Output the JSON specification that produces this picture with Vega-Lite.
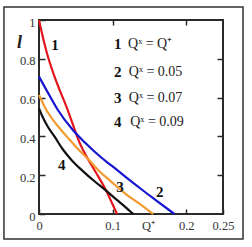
{
  "$schema": "https://vega.github.io/schema/vega-lite/v6.json",
  "autosize": "none",
  "width": 184,
  "height": 194,
  "padding": {"left": 39, "top": 20, "right": 29, "bottom": 33},
  "background": "white",
  "config": {
    "view": {"stroke": "#2a2a2a", "strokeWidth": 2},
    "axis": {"labelFont": "Liberation Serif", "labelFontSize": 12.5, "labelColor": "#333", "domain": false, "tickColor": "#2a2a2a", "tickWidth": 1.5, "grid": false}
  },
  "datasets": {
    "frame": [{"x": -0.0476, "x2": 0.2772, "y": 1.067, "y2": -0.129}],
    "curves": [
      {"s": "1", "x": 0.0, "y": 1.0}, {"s": "1", "x": 0.006, "y": 0.9}, {"s": "1", "x": 0.013, "y": 0.8}, {"s": "1", "x": 0.02, "y": 0.72}, {"s": "1", "x": 0.028, "y": 0.64}, {"s": "1", "x": 0.039, "y": 0.536}, {"s": "1", "x": 0.048, "y": 0.44}, {"s": "1", "x": 0.056, "y": 0.36}, {"s": "1", "x": 0.067, "y": 0.28}, {"s": "1", "x": 0.078, "y": 0.21}, {"s": "1", "x": 0.092, "y": 0.115}, {"s": "1", "x": 0.1, "y": 0.05}, {"s": "1", "x": 0.106, "y": 0.0},
      {"s": "2", "x": 0.0, "y": 0.708}, {"s": "2", "x": 0.01, "y": 0.64}, {"s": "2", "x": 0.025, "y": 0.54}, {"s": "2", "x": 0.046, "y": 0.433}, {"s": "2", "x": 0.062, "y": 0.37}, {"s": "2", "x": 0.085, "y": 0.29}, {"s": "2", "x": 0.1, "y": 0.245}, {"s": "2", "x": 0.118, "y": 0.19}, {"s": "2", "x": 0.14, "y": 0.125}, {"s": "2", "x": 0.16, "y": 0.068}, {"s": "2", "x": 0.184, "y": 0.0},
      {"s": "3", "x": 0.0, "y": 0.613}, {"s": "3", "x": 0.01, "y": 0.536}, {"s": "3", "x": 0.02, "y": 0.48}, {"s": "3", "x": 0.03, "y": 0.433}, {"s": "3", "x": 0.042, "y": 0.381}, {"s": "3", "x": 0.05, "y": 0.347}, {"s": "3", "x": 0.068, "y": 0.278}, {"s": "3", "x": 0.082, "y": 0.22}, {"s": "3", "x": 0.0965, "y": 0.172}, {"s": "3", "x": 0.118, "y": 0.103}, {"s": "3", "x": 0.135, "y": 0.057}, {"s": "3", "x": 0.155, "y": 0.0},
      {"s": "4", "x": 0.0, "y": 0.545}, {"s": "4", "x": 0.005, "y": 0.5}, {"s": "4", "x": 0.012, "y": 0.45}, {"s": "4", "x": 0.021, "y": 0.4}, {"s": "4", "x": 0.032, "y": 0.335}, {"s": "4", "x": 0.045, "y": 0.275}, {"s": "4", "x": 0.06, "y": 0.22}, {"s": "4", "x": 0.075, "y": 0.17}, {"s": "4", "x": 0.09, "y": 0.124}, {"s": "4", "x": 0.105, "y": 0.075}, {"s": "4", "x": 0.117, "y": 0.037}, {"s": "4", "x": 0.128, "y": 0.0}
    ],
    "curveLabels": [
      {"t": "1", "x": 0.0217, "y": 0.871},
      {"t": "4", "x": 0.031, "y": 0.253},
      {"t": "3", "x": 0.110, "y": 0.139},
      {"t": "2", "x": 0.164, "y": 0.115}
    ],
    "legend": [
      {"n": "1", "f": "Qˣ = Q⁺", "x": 0.107, "xf": 0.121, "y": 0.876},
      {"n": "2", "f": "Qˣ = 0.05", "x": 0.107, "xf": 0.122, "y": 0.733},
      {"n": "3", "f": "Qˣ = 0.07", "x": 0.107, "xf": 0.122, "y": 0.596},
      {"n": "4", "f": "Qˣ = 0.09", "x": 0.107, "xf": 0.124, "y": 0.476}
    ]
  },
  "resolve": {"axis": {"x": "independent", "y": "independent"}},
  "layer": [
    {
      "data": {"name": "frame"},
      "mark": {"type": "rect", "filled": false, "color": "#333", "strokeWidth": 1.5, "clip": false},
      "encoding": {
        "x": {"field": "x", "type": "quantitative", "scale": {"domain": [0, 0.25], "nice": false, "zero": false}, "axis": null},
        "x2": {"field": "x2"},
        "y": {"field": "y", "type": "quantitative", "scale": {"domain": [0, 1], "nice": false, "zero": false}, "axis": null},
        "y2": {"field": "y2"}
      }
    },
    {
      "data": {"name": "curves"},
      "mark": {"type": "line", "strokeWidth": 2.2, "interpolate": "monotone"},
      "encoding": {
        "x": {"field": "x", "type": "quantitative", "axis": {"orient": "bottom", "values": [0, 0.1, 0.148, 0.2, 0.25], "tickSize": -5, "labelPadding": 10, "labelFlush": false, "labelExpr": "datum.value == 0.148 ? 'Q⁺' : toString(datum.value)", "tickOpacity": {"condition": {"test": "datum.value == 0.148", "value": 0}, "value": 1}, "title": null}},
        "y": {"field": "y", "type": "quantitative", "axis": {"orient": "left", "values": [0, 0.2, 0.4, 0.6, 0.8, 1], "tickSize": -6, "labelPadding": 10, "labelOffset": 2, "labelFlush": false, "labelExpr": "toString(datum.value)", "title": "l", "titleAngle": 0, "titleX": -20, "titleY": 22, "titleAlign": "center", "titleBaseline": "middle", "titleFont": "Liberation Serif", "titleFontStyle": "italic", "titleFontWeight": "bold", "titleFontSize": 18, "titleColor": "#222"}},
        "color": {"field": "s", "type": "nominal", "scale": {"domain": ["1", "2", "3", "4"], "range": ["#e3161e", "#1515cf", "#f29a2e", "#111111"]}, "legend": null},
        "order": {"field": "x", "type": "quantitative"}
      }
    },
    {
      "data": {"name": "curveLabels"},
      "mark": {"type": "text", "font": "Liberation Serif", "fontWeight": "bold", "fontSize": 15, "color": "#111"},
      "encoding": {
        "x": {"field": "x", "type": "quantitative", "axis": {"orient": "top", "values": [0.1, 0.2], "tickSize": -5, "labels": false, "title": null}},
        "y": {"field": "y", "type": "quantitative", "axis": {"orient": "right", "values": [0.2, 0.4, 0.6, 0.8], "tickSize": -6, "labels": false, "title": null}},
        "text": {"field": "t"}
      }
    },
    {
      "data": {"name": "legend"},
      "mark": {"type": "text", "font": "Liberation Serif", "fontWeight": "bold", "fontSize": 15, "color": "#111"},
      "encoding": {
        "x": {"field": "x", "type": "quantitative", "axis": null},
        "y": {"field": "y", "type": "quantitative", "axis": null},
        "text": {"field": "n"}
      }
    },
    {
      "data": {"name": "legend"},
      "mark": {"type": "text", "font": "Liberation Serif", "fontSize": 14, "align": "left", "color": "#222"},
      "encoding": {
        "x": {"field": "xf", "type": "quantitative", "axis": null},
        "y": {"field": "y", "type": "quantitative", "axis": null},
        "text": {"field": "f"}
      }
    }
  ]
}
